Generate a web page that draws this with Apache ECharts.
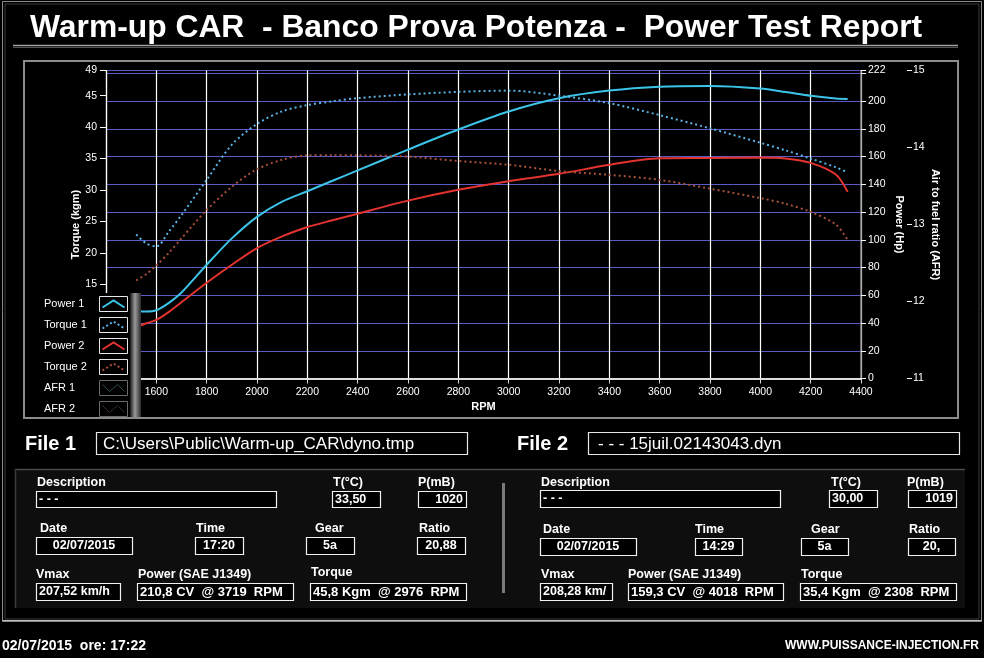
<!DOCTYPE html>
<html><head><meta charset="utf-8">
<script src="https://cdn.jsdelivr.net/npm/echarts@6/dist/echarts.min.js"></script>
<style>html,body{margin:0;padding:0;background:#000;}#c{width:984px;height:658px;}</style>
</head><body><div id="c"></div>
<script>
// ---- chart data ----
const rpm     = [1520, 1560, 1600, 1650, 1700, 1800, 1900, 2000, 2100, 2200, 2300, 2400, 2600, 2800, 3000, 3200, 3400, 3600, 3800, 4000, 4100, 4200, 4300, 4347];
const power1  = [48.5, 48.3, 49.2, 54.5, 62.0, 82.0, 101.0, 116.5, 127.5, 135.0, 142.5, 150.0, 165.0, 179.5, 192.5, 202.0, 207.5, 210.3, 210.8, 209.0, 206.5, 203.8, 201.8, 201.5];
const torque1 = [22.9, 21.5, 21.0, 23.4, 26.0, 31.6, 37.2, 40.5, 42.5, 43.5, 44.1, 44.6, 45.2, 45.6, 45.8, 45.0, 43.8, 41.9, 39.8, 37.5, 36.3, 35.0, 33.6, 32.8];
const power2  = [37.0, 39.8, 42.2, 48.0, 55.0, 69.0, 82.0, 94.0, 102.4, 109.2, 114.0, 118.8, 128.2, 136.0, 142.2, 147.5, 154.0, 158.8, 159.0, 159.3, 158.6, 155.4, 147.0, 134.5];
const torque2 = [15.6, 16.6, 18.0, 20.0, 22.3, 26.8, 30.5, 33.3, 34.8, 35.5, 35.5, 35.5, 35.3, 34.6, 34.0, 33.0, 32.4, 31.6, 30.2, 28.7, 27.8, 26.5, 24.5, 22.0];
const seriesNames = ['Power 1', 'Torque 1', 'Power 2', 'Torque 2', 'AFR 1', 'AFR 2'];

// axis scales [min, max, interval]
const rpmAxis    = [1400, 4400, 200];
const torqueAxis = [0, 49, 5];
const powerAxis  = [0, 222, 20];
const afrAxis    = [11, 15, 1];

// report texts
const titleText = 'Warm-up CAR  - Banco Prova Potenza -  Power Test Report';
const fileNames = ['C:\\Users\\Public\\Warm-up_CAR\\dyno.tmp', '- - - 15juil.02143043.dyn'];
const fieldLabels = ['Description', 'T(°C)', 'P(mB)', 'Date', 'Time', 'Gear', 'Ratio', 'Vmax', 'Power (SAE J1349)', 'Torque'];
const file1Values = ['- - -', '33,50', '1020', '02/07/2015', '17:20', '5a', '20,88', '207,52 km/h', '210,8 CV  @ 3719  RPM', '45,8 Kgm  @ 2976  RPM'];
const file2Values = ['- - -', '30,00', '1019', '02/07/2015', '14:29', '5a', '20,', '208,28 km/', '159,3 CV  @ 4018  RPM', '35,4 Kgm  @ 2308  RPM'];
const footerLeft = '02/07/2015  ore: 17:22';
const footerRight = 'WWW.PUISSANCE-INJECTION.FR';

// ---- styles / layout ----
const FF = '"Liberation Sans", Arial, sans-serif';
const colors = ['#3cc4e8', '#5ab2e4', '#e33330', '#a8503a', '#2c4a50', '#3a2c26'];
const dashed = [false, true, false, true, false, false];

const G = [];
function txt(x, y, s, font, align, z) {
  G.push({type: 'text', x: x, y: y, z: z || 110, silent: true,
    style: {text: s, fill: '#fff', font: font, align: align || 'left', textAlign: align || 'left',
            verticalAlign: 'middle', textVerticalAlign: 'middle'}});
}
function rect(x, y, w, h, stroke, fill, lw, z) {
  G.push({type: 'rect', z: z || 100, silent: true, shape: {x: x, y: y, width: w, height: h},
    style: {stroke: stroke || null, fill: fill || null, lineWidth: lw || 1}});
}
function line(x1, y1, x2, y2, stroke, lw, z) {
  G.push({type: 'line', z: z || 100, silent: true, shape: {x1: x1, y1: y1, x2: x2, y2: y2},
    style: {stroke: stroke, lineWidth: lw || 1}});
}

// outer frames
rect(2.5, 1.5, 979, 620, '#8a8a8a', null, 1, 5);
rect(5, 4, 974, 615, '#3a3a3a', null, 1, 5);
// title
txt(30, 28, titleText, 'bold 31.8px ' + FF, 'left');
line(13, 45.5, 958, 45.5, '#a0a0a0', 1.5, 5);
line(13, 47.5, 958, 47.5, '#505050', 1, 5);
// chart frame
rect(24, 61, 934, 357, '#8c8c8c', null, 2, 120);

// legend panel
rect(25, 293, 116, 124, null, '#000', 1, 100);
G.push({type: 'rect', z: 101, silent: true, shape: {x: 130, y: 293, width: 11, height: 124},
  style: {fill: {type: 'linear', x: 0, y: 0, x2: 1, y2: 0,
    colorStops: [{offset: 0, color: '#1a1a1a'}, {offset: 0.45, color: '#9a9a9a'}, {offset: 1, color: '#2a2a2a'}]}}});
seriesNames.forEach(function (n, i) {
  const cy = 304 + 21 * i;
  txt(44, cy, n, '11px ' + FF, 'left', 110);
  const bx = 99.5, by = cy - 7.5;
  rect(bx, by, 28, 15, i < 4 ? '#e8e8e8' : '#6a6a6a', '#000', 1, 105);
  const pts = i < 4 ? [[bx + 3, by + 11], [bx + 14, by + 4], [bx + 25, by + 11]]
                    : [[bx + 3, by + 4], [bx + 10, by + 11], [bx + 18, by + 4], [bx + 25, by + 11]];
  G.push({type: 'polyline', z: 106, silent: true, shape: {points: pts},
    style: {stroke: colors[i], lineWidth: i < 4 ? 2 : 1, fill: null, lineDash: dashed[i] ? [2, 2.5] : null}});
});

// file rows
txt(25, 444, 'File 1', 'bold 20px ' + FF, 'left');
rect(96.5, 432.5, 371, 22, '#e8e8e8', '#000', 1.2, 100);
txt(103, 444, fileNames[0], '17px ' + FF, 'left');
txt(517, 444, 'File 2', 'bold 20px ' + FF, 'left');
rect(588.5, 432.5, 371, 22, '#e8e8e8', '#000', 1.2, 100);
txt(598, 444, fileNames[1], '17px ' + FF, 'left');

// info panel
rect(15, 469, 950, 139, null, '#0e0e0e', 1, 50);
line(15, 469.5, 965, 469.5, '#4a4a4a', 1.5, 51);
line(15.5, 469, 15.5, 608, '#3a3a3a', 1.5, 51);
G.push({type: 'rect', z: 52, silent: true, shape: {x: 502, y: 483, width: 3, height: 110}, style: {fill: '#7a7a7a'}});
line(2, 620.5, 982, 620.5, '#bdbdbd', 1.2, 52);

// field layout: [labelX, labelY, boxX1, boxX2, boxY1, boxY2, valueAlign]
const layout1 = [
  [37, 483, 36, 276, 491, 507, 'left'],
  [333, 483, 332, 380, 491, 507, 'left'],
  [418, 483, 418, 466, 491, 507, 'right'],
  [40, 529, 36, 132, 537, 554, 'center'],
  [196, 529, 195, 243, 537, 554, 'center'],
  [315, 529, 306, 354, 537, 554, 'center'],
  [419, 529, 417, 465, 537, 554, 'center'],
  [36, 575, 36, 120, 583, 600, 'left'],
  [138, 575, 137, 293, 583, 600, 'left'],
  [311, 573, 310, 466, 583, 600, 'left']
];
const layout2 = [
  [541, 483, 540, 780, 490, 507, 'left'],
  [831, 483, 829, 877, 490, 507, 'left'],
  [907, 483, 908, 956, 490, 507, 'right'],
  [543, 530, 540, 636, 538, 555, 'center'],
  [695, 530, 695, 742, 538, 555, 'center'],
  [811, 530, 801, 848, 538, 555, 'center'],
  [909, 530, 908, 955, 538, 555, 'center'],
  [541, 575, 540, 612, 583, 600, 'left'],
  [628, 575, 628, 783, 583, 600, 'left'],
  [801, 575, 800, 956, 583, 600, 'left']
];
function panel(lay, vals) {
  lay.forEach(function (L, i) {
    txt(L[0], L[1], fieldLabels[i], 'bold 12.5px ' + FF, 'left');
    rect(L[2] + 0.5, L[4] + 0.5, L[3] - L[2], L[5] - L[4], '#f0f0f0', '#000', 1.2, 100);
    const cy = (L[4] + L[5]) / 2 + 0.5;
    const vx = L[6] === 'left' ? L[2] + 3 : (L[6] === 'right' ? L[3] - 3 : (L[2] + L[3]) / 2);
    txt(vx, cy, vals[i], (i >= 8 ? 'bold 13px ' : 'bold 12.5px ') + FF, L[6]);
  });
}
panel(layout1, file1Values);
panel(layout2, file2Values);

// footer
txt(2, 646, footerLeft, 'bold 14px ' + FF, 'left');
txt(979, 646, footerRight, 'bold 12px ' + FF, 'right');

function pairs(xs, ys) { return xs.map(function (x, i) { return [x, ys[i]]; }); }
const axisFont = {color: '#fff', fontSize: 10.5, fontFamily: FF};
const nameFont = {color: '#fff', fontSize: 11, fontWeight: 'bold', fontFamily: FF};
function plain(v) { return String(v); }

const chart = echarts.init(document.getElementById('c'), null, {renderer: 'canvas'});
chart.setOption({
  backgroundColor: '#000',
  animation: false,
  grid: {left: 106, top: 70.5, width: 755, height: 308, containLabel: false},
  xAxis: [
    {type: 'value', min: rpmAxis[0], max: rpmAxis[1], interval: rpmAxis[2], position: 'bottom',
     axisLine: {show: true, lineStyle: {color: '#8c8c8c', width: 1.5}},
     axisTick: {show: true, length: 5, lineStyle: {color: '#dddddd'}},
     axisLabel: Object.assign({margin: 8, formatter: plain}, axisFont),
     splitLine: {show: true, lineStyle: {color: '#ffffff', width: 1.2}},
     name: 'RPM', nameLocation: 'middle', nameGap: 23, nameMoveOverlap: false, nameTextStyle: nameFont},
    {type: 'value', min: rpmAxis[0], max: rpmAxis[1], interval: rpmAxis[2], position: 'top',
     axisLine: {show: true, lineStyle: {color: '#ffffff', width: 1.5}},
     axisTick: {show: false}, axisLabel: {show: false}, splitLine: {show: false}}
  ],
  yAxis: [
    {type: 'value', min: torqueAxis[0], max: torqueAxis[1], interval: torqueAxis[2], position: 'left',
     axisLine: {show: true, lineStyle: {color: '#ffffff', width: 1.2}},
     axisTick: {show: true, length: 6, lineStyle: {color: '#ffffff'}},
     axisLabel: Object.assign({margin: 9, showMaxLabel: true, showMinLabel: true, formatter: plain}, axisFont),
     splitLine: {show: false},
     name: 'Torque (kgm)', nameLocation: 'middle', nameGap: 25, nameMoveOverlap: false, nameTextStyle: nameFont},
    {type: 'value', min: powerAxis[0], max: powerAxis[1], interval: powerAxis[2], position: 'right',
     axisLine: {show: true, lineStyle: {color: '#8c8c8c', width: 1.5}},
     axisTick: {show: true, length: 5, lineStyle: {color: '#ffffff'}},
     axisLabel: Object.assign({margin: 7, showMaxLabel: true,
       formatter: function (v) { return (v > powerAxis[1] - powerAxis[2] && v < powerAxis[1]) ? '' : String(v); }}, axisFont),
     splitLine: {show: true, lineStyle: {color: '#5a5ac8', width: 1.2}},
     name: 'Power (Hp)', nameLocation: 'middle', nameRotate: -90, nameGap: 33, nameMoveOverlap: false, nameTextStyle: nameFont},
    {type: 'value', min: afrAxis[0], max: afrAxis[1], interval: afrAxis[2], position: 'right', offset: 46,
     axisLine: {show: false},
     axisTick: {show: true, length: 5, lineStyle: {color: '#ffffff'}},
     axisLabel: Object.assign({margin: 6, showMaxLabel: true, showMinLabel: true, formatter: plain}, axisFont),
     splitLine: {show: false},
     name: 'Air to fuel ratio (AFR)', nameLocation: 'middle', nameRotate: -90, nameGap: 23, nameMoveOverlap: false, nameTextStyle: nameFont}
  ],
  series: [
    {name: seriesNames[0], type: 'line', yAxisIndex: 1, data: pairs(rpm, power1), smooth: 0.3, showSymbol: false,
     lineStyle: {color: colors[0], width: 2}, itemStyle: {color: colors[0]}},
    {name: seriesNames[1], type: 'line', yAxisIndex: 0, data: pairs(rpm, torque1), smooth: 0.3, showSymbol: false,
     lineStyle: {color: colors[1], width: 2, type: [2, 3]}, itemStyle: {color: colors[1]}},
    {name: seriesNames[2], type: 'line', yAxisIndex: 1, data: pairs(rpm, power2), smooth: 0.3, showSymbol: false,
     lineStyle: {color: colors[2], width: 2}, itemStyle: {color: colors[2]}},
    {name: seriesNames[3], type: 'line', yAxisIndex: 0, data: pairs(rpm, torque2), smooth: 0.3, showSymbol: false,
     lineStyle: {color: colors[3], width: 2, type: [2, 3]}, itemStyle: {color: colors[3]}}
  ],
  graphic: {elements: G}
});
</script></body></html>
